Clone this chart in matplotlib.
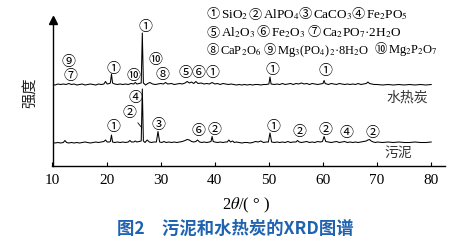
import matplotlib
matplotlib.use('Agg')
import matplotlib.pyplot as plt
from matplotlib.offsetbox import TextArea, HPacker, AnchoredOffsetbox

plt.rcParams['font.family'] = ['Liberation Serif', 'Noto Sans CJK SC', 'DejaVu Sans']
plt.rcParams['mathtext.fontset'] = 'stix'

# XRD patterns (2theta in degrees, intensity in a.u. above baseline)
hydrochar_2theta = [
    10, 10.5, 11, 11.5, 12, 12.5, 13, 13.5, 14, 14.5,
    15, 15.5, 16, 16.5, 17, 17.5, 18, 18.5, 19, 19.5,
    19.8, 20.1, 20.5, 20.7, 20.9, 21.1, 21.5, 22, 22.5, 23,
    23.5, 24, 24.5, 25, 25.3, 25.6, 26, 26.4, 26.6, 26.8,
    27.2, 27.6, 28, 28.5, 29, 29.5, 30, 30.5, 30.9, 31.3,
    32, 32.5, 33, 33.5, 34, 34.5, 34.9, 35.3, 35.7, 36.1,
    36.5, 36.9, 37.5, 38, 38.5, 39, 39.5, 40, 40.5, 41,
    41.5, 42, 42.5, 43, 43.5, 44, 44.5, 45, 45.5, 46,
    46.5, 47, 47.5, 48, 48.5, 49, 49.5, 50, 50.2, 50.4,
    51, 51.5, 52, 52.5, 53, 53.5, 54, 54.5, 55, 55.5,
    56, 56.5, 57, 57.5, 58, 58.5, 59, 59.5, 60, 60.2,
    60.4, 61, 61.5, 62, 62.5, 63, 63.5, 64, 64.5, 65,
    65.5, 66, 66.5, 67, 67.5, 68, 68.3, 68.6, 69, 69.5,
    70, 71, 72, 73, 74, 75, 76, 77, 78, 79,
    80,
]
hydrochar_int = [
    0.5, 0, 1, 0.5, 1, 0.5, 1.5, 0.5, 1, 0,
    0.5, 1, 0, 0.5, 1, 0.5, 0, 1, 0.5, 1,
    3.5, 1, 1.5, 2, 11, 2, 1, 0.5, 1, 0.5,
    1, 0.5, 1.5, 1, 2.5, 1, 1.5, 2, 52, 2,
    0, 1.5, 2.5, 1, 0.5, 1, 1.5, 1, 2.5, 1,
    1.5, 0.5, 1, 1.5, 1, 2, 3.5, 2, 3, 1.5,
    3.5, 1.5, 2, 1, 1.5, 1, 2.5, 1, 1.5, 0.5,
    1.5, 1, 0.5, 1, 0.5, 0, 0.5, 0, 0.5, 0,
    0.5, 0, 0.5, 0.5, 0, 0.5, 0.5, 1, 8, 1,
    0.5, 1, 0.5, 1.5, 0.5, 1, 1.5, 0.5, 1.5, 1,
    2, 1, 1.5, 0.5, 1.5, 1, 0.5, 1, 1.5, 4.5,
    1.5, 0.5, 1.5, 1, 0.5, 1.5, 1, 0.5, 1, 0.5,
    1, 0.5, 1.5, 0.5, 1, 1.5, 3, 1.5, 1, 0.5,
    0.5, 0, 0.5, 0, 0.5, 0, 0.5, 0, 0.5, 0,
    0.5,
]

sludge_2theta = [
    10, 10.5, 11, 11.5, 12, 12.3, 12.6, 13, 13.5, 14,
    14.5, 15, 15.5, 16, 16.5, 17, 17.5, 18, 18.5, 19,
    19.5, 19.8, 20.1, 20.5, 20.7, 20.9, 21.1, 21.5, 22, 22.5,
    23, 23.5, 24, 24.3, 24.6, 25, 25.3, 25.6, 26, 26.4,
    26.6, 26.8, 27.1, 27.5, 27.9, 28.3, 28.7, 29.2, 29.5, 29.8,
    30.2, 30.6, 31, 31.5, 32, 32.5, 33, 33.5, 34, 34.5,
    34.9, 35.3, 35.7, 36.1, 36.5, 36.8, 37.2, 37.6, 38, 38.5,
    39, 39.3, 39.5, 39.7, 40, 40.5, 41, 41.5, 42, 42.3,
    42.6, 42.9, 43.3, 43.6, 44, 44.5, 45, 45.5, 46, 46.5,
    47, 47.5, 48, 48.5, 49, 49.5, 49.9, 50.2, 50.5, 51,
    51.5, 52, 52.5, 53, 53.5, 54, 54.5, 55, 55.3, 55.6,
    56, 56.5, 57, 57.5, 58, 58.5, 59, 59.5, 59.9, 60.2,
    60.5, 61, 61.5, 62, 62.5, 63, 63.5, 64, 64.5, 65,
    65.5, 66, 66.5, 67, 67.5, 68, 68.3, 68.6, 68.9, 69.3,
    69.7, 70, 71, 72, 73, 74, 75, 76, 77, 78,
    79, 80,
]
sludge_int = [
    0.5, 0, 0.5, 0, 0.5, 2.5, 0.5, 0, 0.5, 0,
    0.5, 0, 0.5, 1, 0.5, 0, 0.5, 1, 0.5, 1,
    1.5, 3, 1, 1, 1.5, 8, 1, 0.5, 1, 0.5,
    1, 0.5, 1, 2.5, 1, 1, 2, 1, 1.5, 2,
    54, 2, 0.5, 3, 1, 0.5, 1, 1, 11.5, 1,
    0.5, 1.5, 0.5, 1, 0.5, 1, 0.5, 1, 1.5, 2.5,
    3.5, 3, 1.5, 1, 1.5, 3, 1, 0.5, 1, 0.5,
    1, 1.5, 6.5, 1.5, 1, 0.5, 1, 0.5, 1, 1,
    3, 1, 2, 0.5, 1, 0.5, 0, 0.5, 0.5, 0,
    0.5, 1.5, 1, 2, 0.5, 1, 1, 10, 1, 0.5,
    1, 0.5, 1, 0.5, 1.5, 0.5, 1, 1, 2.5, 1,
    0.5, 1, 1.5, 0.5, 1, 0.5, 1.5, 1, 1.5, 6.5,
    1.5, 1, 0.5, 1, 1.5, 0.5, 1, 1.5, 0.5, 1,
    0.5, 1, 0.5, 1, 1.5, 2, 3, 3.5, 2, 1,
    0.5, 1, 0.5, 1, 0.5, 1, 0.5, 0.5, 1, 0.5,
    0.5, 1,
]

# phase markers: (label, 2theta, height)
hydrochar_marks = [('①', 27.1, 139.5), ('⑨', 12.9, 104), ('⑦', 13.4, 90),
                   ('①', 21.2, 97), ('⑩', 24.9, 90), ('⑩', 29.1, 106),
                   ('⑧', 30.4, 91), ('⑤', 34.5, 93), ('⑥', 36.9, 93),
                   ('①', 39.5, 93), ('①', 50.6, 96), ('①', 60.5, 95)]
sludge_marks = [('④', 25.25, 68), ('③', 29.5, 41), ('①', 21.2, 39),
                ('⑥', 36.9, 35), ('②', 40.0, 36), ('①', 50.8, 39),
                ('②', 55.6, 34), ('②', 60.4, 36), ('④', 64.3, 33),
                ('②', 69.2, 33)]

legend_rows = [
    [('①', r'SiO$_2$'), ('②', r'AlPO$_4$'), ('③', r'CaCO$_3$'), ('④', r'Fe$_2$PO$_5$')],
    [('⑤', r'Al$_2$O$_3$'), ('⑥', r'Fe$_2$O$_3$'), ('⑦', r'Ca$_2$PO$_7$·2H$_2$O')],
    [('⑧', r'CaP$_2$O$_6$'), ('⑨', r'Mg$_3$(PO$_4$)$_2$·8H$_2$O'), ('⑩', r'Mg$_2$P$_2$O$_7$')],
]
# start of each legend entry, row centre (pixels of the 471x246 figure) and text size
legend_x = [[207, 249, 299, 352], [207, 257, 308], [207, 264, 375]]
legend_y = [15, 33, 51]
legend_size = [9.5, 9.5, 9]

HYDROCHAR_OFFSET = 81
SLUDGE_OFFSET = 23
CIRCLE_FONT = ['Noto Sans CJK SC', 'DejaVu Sans']

fig = plt.figure(figsize=(4.71, 2.46), dpi=100)
ax = fig.add_axes([52.5 / 471, 80 / 246, (445 - 52.5) / 471, 142 / 246])

ax.plot(hydrochar_2theta, [v + HYDROCHAR_OFFSET for v in hydrochar_int],
        color='black', linewidth=0.75)
ax.plot(sludge_2theta, [v + SLUDGE_OFFSET for v in sludge_int],
        color='black', linewidth=0.75)

ax.set_xlim(10, 82.55)
ax.set_ylim(0, 142)
ax.set_xticks(range(10, 81, 10))
ax.set_yticks([])
ax.tick_params(axis='x', direction='in', length=3, width=0.8, pad=6, labelsize=11)
for s in ('top', 'right'):
    ax.spines[s].set_visible(False)
for s in ('left', 'bottom'):
    ax.spines[s].set_linewidth(1.0)
ax.plot(0, 1.03, marker='^', markersize=6, color='black',
        transform=ax.transAxes, clip_on=False)

for lab, x, y in hydrochar_marks + sludge_marks:
    ax.text(x, y, lab, ha='center', va='center', fontsize=10, family=CIRCLE_FONT)
# leader line for AlPO4 at the main quartz peak
ax.annotate('②', xy=(26.55, 38), xytext=(24.3, 53), ha='center', va='center',
            fontsize=10, family=CIRCLE_FONT,
            arrowprops=dict(arrowstyle='-', color='black', linewidth=0.6,
                            shrinkA=5, shrinkB=0))

ax.text(75.5, 68, '水热炭', ha='center', va='center', fontsize=10,
        family='Noto Sans CJK SC', color='#333333')
ax.text(73.9, 13, '污泥', ha='center', va='center', fontsize=10,
        family='Noto Sans CJK SC', color='#333333')

# phase legend, top right
for row, xs, y, size in zip(legend_rows, legend_x, legend_y, legend_size):
    for (digit, formula), x in zip(row, xs):
        entry = HPacker(children=[
            TextArea(digit, textprops=dict(fontsize=size, family=CIRCLE_FONT)),
            TextArea(formula, textprops=dict(fontsize=size))],
            align='baseline', pad=0, sep=0.5)
        fig.add_artist(AnchoredOffsetbox(loc='center left', child=entry, pad=0,
                                         borderpad=0, frameon=False,
                                         bbox_to_anchor=(x / 471, 1 - y / 246),
                                         bbox_transform=fig.transFigure))

fig.text(30 / 471, 1 - 93 / 246, '强度', rotation=90, ha='center', va='center',
         fontsize=11, family='Noto Sans CJK SC', color='#222222')
fig.text(246 / 471, 1 - 205 / 246, r'2$\theta$/( ° )', ha='center', va='center',
         fontsize=12)
fig.text(235 / 471, 1 - 229 / 246, '图2\u3000污泥和水热炭的XRD图谱', ha='center',
         va='center', fontsize=12.5, family='Noto Sans CJK SC', weight='bold',
         color='#1f63b0')

fig.savefig('out.png', dpi=100)
